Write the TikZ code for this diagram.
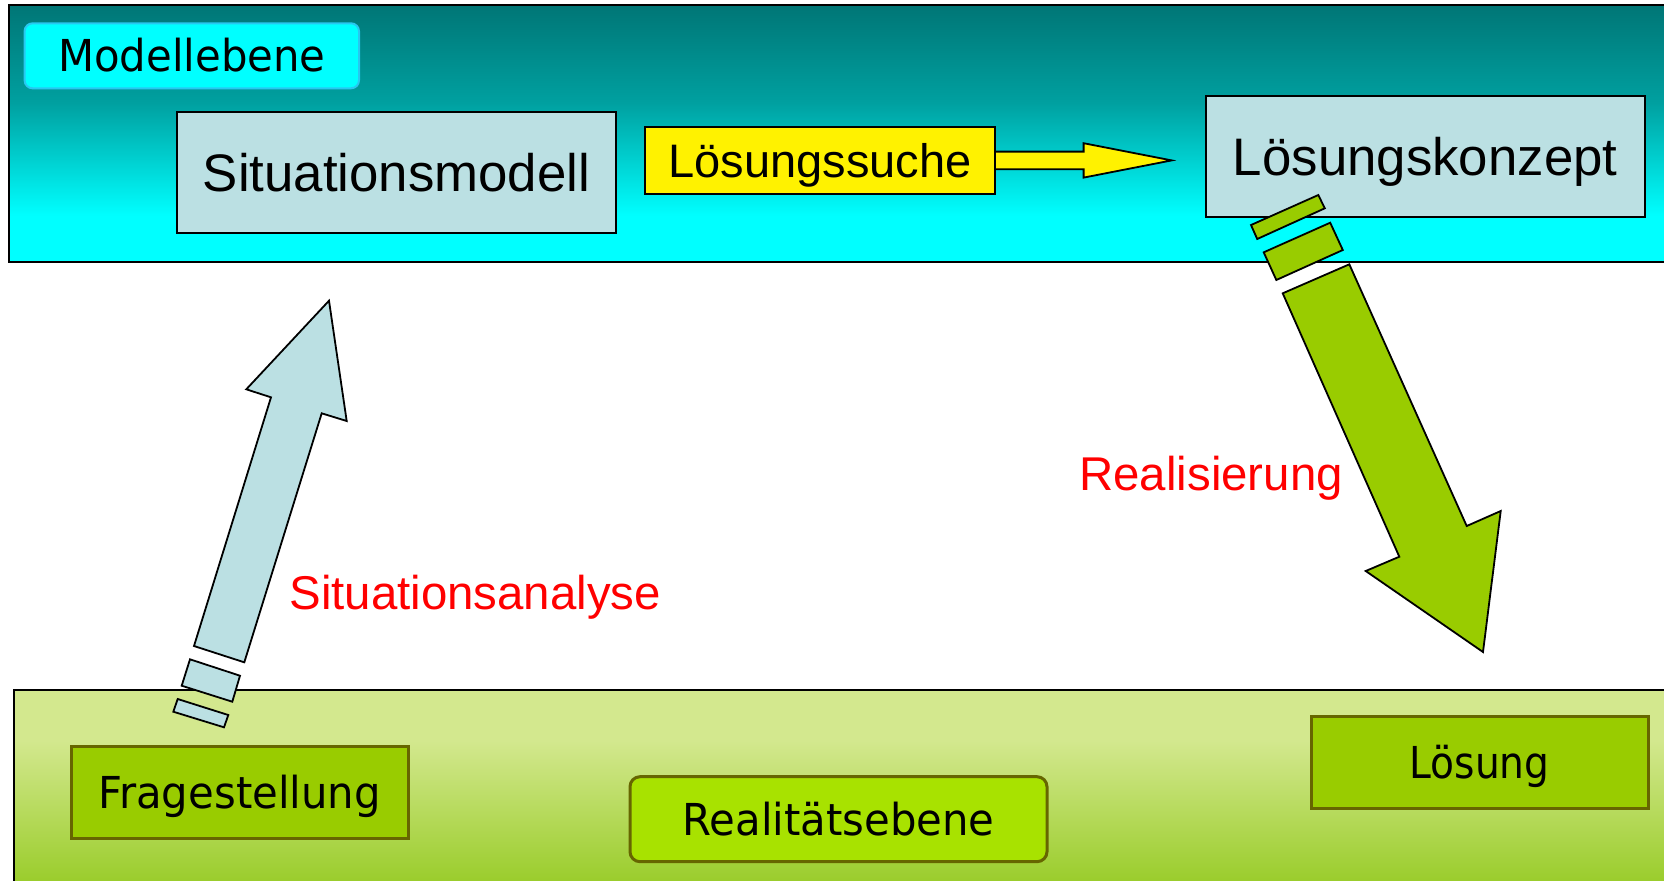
\documentclass[tikz,border=0pt]{standalone}
\usepackage{fontspec}
\setmainfont{Liberation Sans}
\newfontfamily\levelfont[FakeStretch=0.95]{DejaVu Sans}
\newfontfamily\levelfontn[FakeStretch=0.89]{DejaVu Sans}
\usetikzlibrary{calc}

\definecolor{aqua}{RGB}{0,255,255}
\definecolor{boxblue}{RGB}{187,224,227}
\definecolor{leaf}{RGB}{153,204,0}
\definecolor{brightleaf}{RGB}{168,226,0}
\definecolor{oliveline}{RGB}{102,102,0}
\definecolor{modelline}{RGB}{40,200,240}
\definecolor{tealtop}{RGB}{0,118,118}
\definecolor{tealmid}{RGB}{0,160,160}
\definecolor{teallow}{RGB}{0,225,225}
\definecolor{paleleaf}{RGB}{211,232,142}
\definecolor{deepleaf}{RGB}{155,205,45}
\definecolor{signalred}{RGB}{255,0,0}

% model band: dark teal at the top fading into aqua
\pgfdeclareverticalshading{modelband}{100bp}{color(0bp)=(aqua); color(34bp)=(aqua); color(41bp)=(teallow); color(56bp)=(tealmid); color(75bp)=(tealtop); color(100bp)=(tealtop)}
% reality band: pale green at the top, deeper green below
\pgfdeclareverticalshading{realband}{100bp}{color(0bp)=(deepleaf); color(26bp)=(deepleaf); color(62bp)=(paleleaf); color(100bp)=(paleleaf)}

\tikzset{
  bandline/.style={draw=black, line width=1.2pt},
  conceptbox/.style={draw=black, line width=1pt, fill=boxblue, inner sep=0pt,
    minimum width=219.7pt, minimum height=60.5pt,
    font=\fontsize{26.4}{30}\selectfont, text height=18.9pt, text depth=0pt},
  searchbox/.style={draw=black, line width=1pt, fill=yellow, inner sep=0pt,
    minimum width=175pt, minimum height=33.7pt,
    font=\fontsize{23.5}{28}\selectfont, text height=16.8pt, text depth=0pt},
  levelbox/.style={draw=modelline, line width=1pt, fill=aqua, rounded corners=4pt,
    inner sep=0pt, minimum width=167.2pt, minimum height=32.5pt,
    font=\levelfont\fontsize{22}{26}\selectfont, text height=16pt, text depth=0pt},
  realbox/.style={draw=oliveline, line width=1.5pt, fill=leaf, inner sep=0pt,
    minimum width=168.5pt, minimum height=46pt,
    font=\levelfont\fontsize{22}{26}\selectfont, text height=16pt, text depth=0pt},
  realitylabel/.style={draw=oliveline, line width=1.5pt, fill=brightleaf, rounded corners=5pt,
    inner sep=0pt, minimum width=208.5pt, minimum height=42.5pt,
    font=\levelfont\fontsize{22}{26}\selectfont, text height=16pt, text depth=0pt},
  steplabel/.style={text=signalred, anchor=base west, inner sep=0pt,
    font=\fontsize{23.7}{28}\selectfont},
  blockarrow/.style={draw=black, line width=0.9pt, line join=miter},
}

\begin{document}
\begin{tikzpicture}[x=0.5pt, y=-0.5pt]
\useasboundingbox (0,0) rectangle (1664,880);

% the two levels
\shade[shading=modelband, bandline] (9,5) rectangle (1680,262);
\shade[shading=realband, bandline] (14,690) rectangle (1680,884);

% model level
\node[levelbox] (modell) at (191.8,55.8) {Modellebene};
\node[conceptbox] (sitmod) at (396.5,172.2) {Situationsmodell};
\node[conceptbox] (konzept) at (1425.2,156.9) {Lösungskonzept};

% search arrow starting at the yellow box
\coordinate (suchend) at (996,160.4);
\draw[blockarrow, fill=yellow]
  ($(suchend)+(0,-8.8)$) -- ($(suchend)+(87.6,-8.8)$) -- ($(suchend)+(87.6,-17.2)$)
  -- ($(suchend)+(175.7,0)$) -- ($(suchend)+(87.6,17.2)$) -- ($(suchend)+(87.6,8.8)$)
  -- ($(suchend)+(0,8.8)$);
\node[searchbox, anchor=east] (suche) at (suchend) {Lösungssuche};

% reality level
\node[realbox] (frage) at (239.5,792) {Fragestellung};
\node[realitylabel] (realitaet) at (838.5,819.2) {Realitätsebene};
\node[realbox, font=\levelfontn\fontsize{22}{26}\selectfont] (loesung) at (1479.5,762) {Lösung};

% analysis arrow, rising from the question to the model
\draw[blockarrow, fill=boxblue] (329,300.7) -- (346.7,421) -- (321.7,413.3)
  -- (244.3,662.3) -- (194,646) -- (271,397.3) -- (246.3,389.3) -- cycle;
\draw[blockarrow, fill=boxblue] (190,659.3) -- (240,675.7) -- (232.3,701.7) -- (181.7,685.7) -- cycle;
\draw[blockarrow, fill=boxblue] (177.7,699) -- (228.3,715) -- (224,727.3) -- (173.3,711.7) -- cycle;

% realisation arrow, falling from the concept to the solution
\draw[blockarrow, fill=leaf] (1251,225) -- (1318.3,195) -- (1324.8,208.3) -- (1257.2,239) -- cycle;
\draw[blockarrow, fill=leaf] (1263.7,252.3) -- (1330.2,222.7) -- (1342.8,250) -- (1276.3,280) -- cycle;
\draw[blockarrow, fill=leaf] (1282.7,293.3) -- (1349.3,264.3) -- (1466.7,526) -- (1500.7,511)
  -- (1483,652) -- (1365.7,571) -- (1399.3,556.7) -- cycle;

% step names
\node[steplabel] (analyse) at (289,609.3) {Situationsanalyse};
\node[steplabel] (realisierung) at (1079,490) {Realisierung};
\end{tikzpicture}
\end{document}
